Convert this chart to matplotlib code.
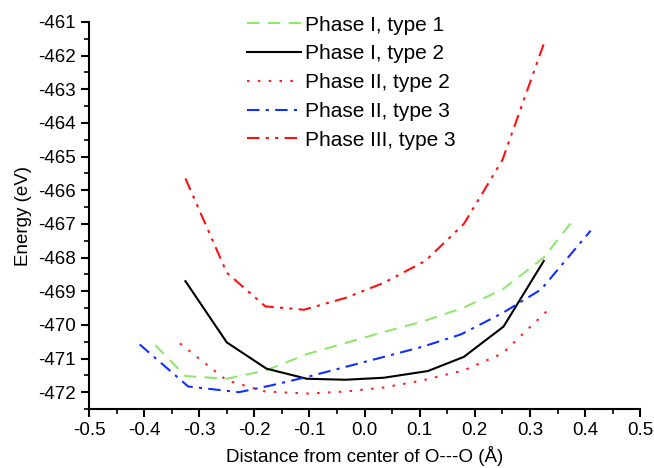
import matplotlib
matplotlib.use("Agg")
import matplotlib.pyplot as plt
from matplotlib.ticker import MultipleLocator, FormatStrFormatter

plt.rcParams['font.family'] = ['Liberation Sans', 'DejaVu Sans']

# Phase I, type 1
x_p1t1 = [-0.38, -0.325, -0.25, -0.178, -0.105, -0.035, 0.035, 0.105, 0.178, 0.25, 0.325, 0.38]
y_p1t1 = [-470.6, -471.52, -471.6, -471.35, -470.87, -470.54, -470.21, -469.9, -469.5, -468.95, -468.0, -466.85]
# Phase I, type 2
x_p1t2 = [-0.325, -0.25, -0.178, -0.105, -0.035, 0.035, 0.115, 0.18, 0.252, 0.325]
y_p1t2 = [-468.7, -470.52, -471.3, -471.6, -471.63, -471.57, -471.37, -470.95, -470.05, -468.1]
# Phase II, type 2
x_p2t2 = [-0.335, -0.25, -0.18, -0.105, -0.035, 0.035, 0.105, 0.18, 0.25, 0.33]
y_p2t2 = [-470.55, -471.65, -471.98, -472.04, -471.98, -471.86, -471.65, -471.35, -470.85, -469.6]
# Phase II, type 3
x_p2t3 = [-0.408, -0.32, -0.228, -0.17, -0.105, -0.035, 0.035, 0.105, 0.175, 0.25, 0.32, 0.41]
y_p2t3 = [-470.58, -471.83, -472.0, -471.8, -471.55, -471.25, -470.95, -470.65, -470.28, -469.65, -468.95, -467.2]
# Phase III, type 3
x_p3t3 = [-0.325, -0.25, -0.18, -0.11, -0.035, 0.035, 0.11, 0.18, 0.25, 0.325]
y_p3t3 = [-465.65, -468.45, -469.45, -469.55, -469.2, -468.75, -468.1, -467.0, -465.1, -461.65]

labels = ["Phase I, type 1", "Phase I, type 2", "Phase II, type 2",
          "Phase II, type 3", "Phase III, type 3"]

fig = plt.figure(figsize=(6.54, 4.68), dpi=100)
ax = fig.add_axes([0.136, 0.126, 0.843, 0.827])

lw = 1.5
ax.plot(x_p1t1, y_p1t1, color='#8ee86e', lw=lw, ls=(0, (6, 4)), label=labels[0])
ax.plot(x_p1t2, y_p1t2, color='black', lw=lw, ls='-', label=labels[1])
ax.plot(x_p2t2, y_p2t2, color='#ff2020', lw=lw, ls=(0, (1.2, 4)), label=labels[2])
ax.plot(x_p2t3, y_p2t3, color='#1030ff', lw=lw, ls=(0, (6, 3, 1.5, 3)), label=labels[3])
ax.plot(x_p3t3, y_p3t3, color='#ff1010', lw=lw, ls=(0, (6, 3, 1.5, 3, 1.5, 3)), label=labels[4])

ax.set_xlim(-0.5, 0.5)
ax.set_ylim(-472.5, -461)
ax.xaxis.set_major_locator(MultipleLocator(0.1))
ax.xaxis.set_minor_locator(MultipleLocator(0.05))
ax.xaxis.set_major_formatter(FormatStrFormatter('%.1f'))
ax.yaxis.set_major_locator(MultipleLocator(1))
ax.yaxis.set_minor_locator(MultipleLocator(0.5))
ax.yaxis.set_major_formatter(FormatStrFormatter('%d'))

for s in ['top', 'right']:
    ax.spines[s].set_visible(False)
for s in ['left', 'bottom']:
    ax.spines[s].set_linewidth(1.5)

ax.tick_params(which='major', direction='out', length=6, width=1.5, labelsize=13.5)
ax.tick_params(which='minor', direction='out', length=3.5, width=1.2)

ax.set_xlabel("Distance from center of O---O (Å)", fontsize=13.5, labelpad=5)
ax.set_ylabel("Energy (eV)", fontsize=13.5, labelpad=4)

ax.legend(loc='upper left', bbox_to_anchor=(0.252, 1.065), frameon=False, fontsize=15,
          handlelength=2.6, labelspacing=0.47, handletextpad=0.2)

fig.savefig("out.png", dpi=100)
